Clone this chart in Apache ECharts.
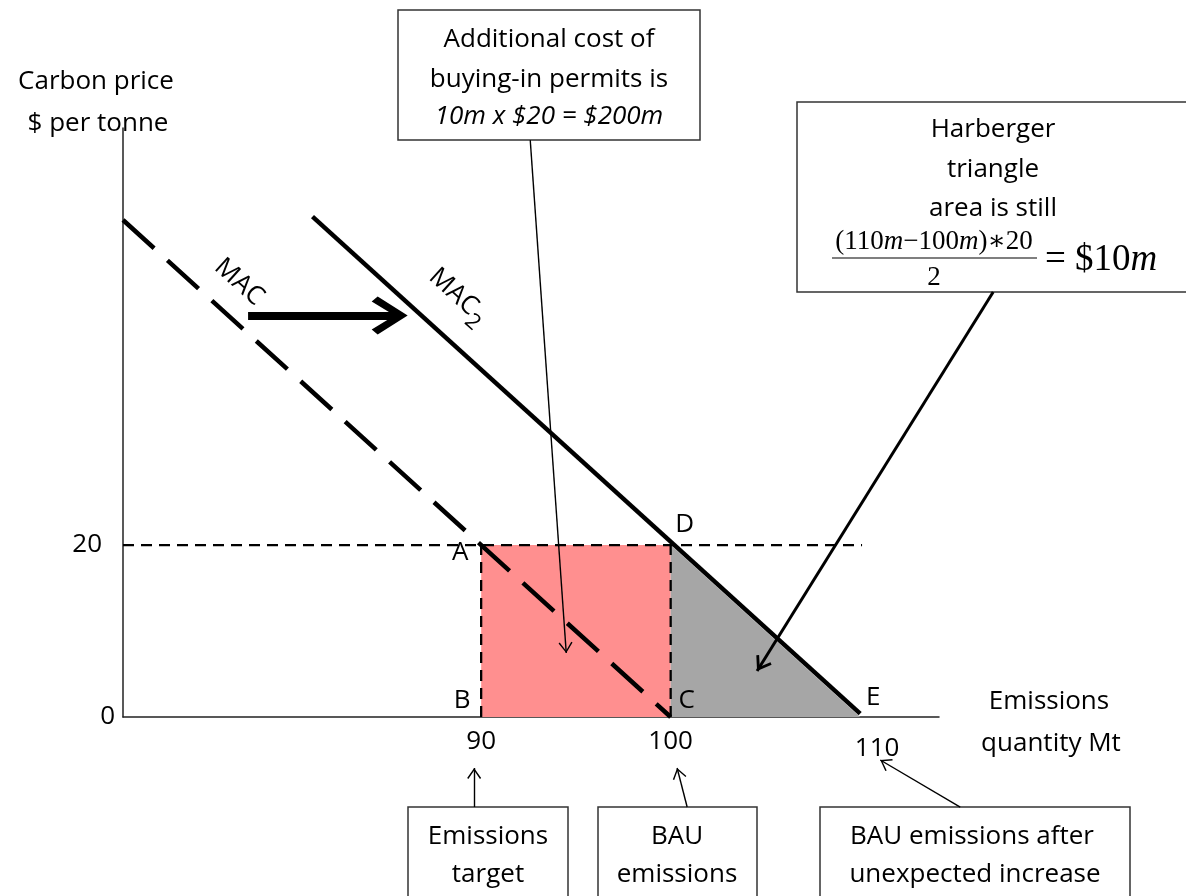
<!DOCTYPE html>
<html lang="en">
<head>
<meta charset="utf-8" />
<title>MAC shift and Harberger triangle</title>
<script src="https://cdn.jsdelivr.net/npm/echarts@6/dist/echarts.min.js"></script>
</head>
<body style="margin:0;background:#fff">
<div id="chart" style="width:1186px;height:896px"></div>
<script>
// values (x = emissions Mt, y = $ per tonne)
const xTicks = [90, 100, 110]
const yTicks = [0, 20]
const macLine = [[71.1, 57.8], [100, 0]]
const mac2Line = [[81.1, 58.2], [110, 0.4]]
const priceLine = [[71.1, 20], [110.1, 20]]
const targetDrop = [[90, 0], [90, 20]]
const bauDrop = [[100, 0], [100, 20]]
const permitCost = [[90, 20], [100, 20]]
const harbergerEdge = [[100, 20], [110, 0]]
const pointNames = ['A', 'B', 'C', 'D', 'E']
const pointValues = [[90, 20], [90, 0], [100, 0], [100, 20], [110, 0]]
const curveNames = ['MAC', 'MAC{s|2}']
const curveLabelAt = [[77.23, 50.58], [88.79, 48.95]]
const shiftArrow = [[77.7, 46.7], [85.7, 46.7]]
const noteArrows = [
    [[92.59, 67.09], [94.49, 7.44]],   // additional cost box
    [[89.63, -10.47], [89.63, -5.93]], // emissions target
    [[100.87, -10.47], [100.34, -5.93]], // BAU emissions
    [[115.28, -10.47], [111.06, -5.0]]  // BAU after increase
]
const harbergerArrow = [[117.02, 49.42], [104.56, 5.35]]

const FONT = '"Open Sans", Lato, sans-serif'
const SERIF = '"Liberation Serif", "DejaVu Serif", serif'
const FS = 26

// chevron heads, tip pointing up; the extra tiny segment re-centres the box
const thinHead = 'path://M0,0 L7,10 L5.8,10.9 L0,2.4 L-5.8,10.9 L-7,10 Z M0,-10.9 L0.01,-10.9'
const midHead = 'path://M0,0 L9,13 L6.7,14.6 L0,5 L-6.7,14.6 L-9,13 Z M0,-14.6 L0.01,-14.6'
const bigHead = 'path://M0,0 L19,30 L14,36 L0,13 L-14,36 L-19,30 Z M0,-20 L0.01,-20'

const labelOffsets = { A: [-21, 8], B: [-19, -16], C: [16, -16], D: [14, -20], E: [13, -19] }

let chart = echarts.init(document.getElementById('chart'))

function txt(text, x, y, size, extra) {
    return {
        type: 'text',
        style: Object.assign({
            text: text, x: x, y: y + 2, fill: '#000',
            font: size + 'px ' + FONT, align: 'center', verticalAlign: 'middle'
        }, extra || {})
    }
}
function box(x, y, w, h) {
    return {
        type: 'rect',
        shape: { x: x, y: y, width: w, height: h },
        style: { fill: '#fff', stroke: '#333', lineWidth: 1.5 }
    }
}

let option = {
    animation: false,
    backgroundColor: '#fff',
    grid: { left: 123, right: 247, top: 128, bottom: 179, outerBoundsMode: 'none' },
    xAxis: {
        type: 'value', min: 71.1, max: 114.16,
        splitLine: { show: false }, axisTick: { show: false },
        axisLine: { lineStyle: { color: '#222', width: 1.5 } },
        axisLabel: {
            customValues: xTicks, margin: 12, color: '#000', fontSize: FS, fontFamily: FONT,
            formatter: v => v === 110 ? '{b|110}' : String(v),
            rich: { b: { fontSize: FS, fontFamily: FONT, color: '#000', padding: [7, 0, 0, 34] } }
        }
    },
    yAxis: {
        type: 'value', min: 0, max: 68.5,
        splitLine: { show: false }, axisTick: { show: false },
        axisLine: { lineStyle: { color: '#222', width: 1.5 } },
        axisLabel: {
            customValues: yTicks, margin: 8, color: '#000', fontSize: FS, fontFamily: FONT,
            formatter: v => v === 20 ? '{t|20}' : String(v),
            rich: { t: { fontSize: FS, fontFamily: FONT, color: '#000', padding: [0, 13, 0, 0] } }
        }
    },
    series: [
        {
            type: 'line', data: permitCost, symbol: 'none', z: 1,
            lineStyle: { width: 0 }, areaStyle: { color: '#FF8F8F', opacity: 1 }
        },
        {
            type: 'line', data: harbergerEdge, symbol: 'none', z: 1,
            lineStyle: { width: 0 }, areaStyle: { color: '#A6A6A6', opacity: 1 }
        },
        {
            type: 'line', data: priceLine, symbol: 'none', z: 3,
            lineStyle: { color: '#000', width: 2.3, type: [11, 7] }
        },
        {
            type: 'line', data: targetDrop, symbol: 'none', z: 3,
            lineStyle: { color: '#000', width: 2.3, type: [11, 7] }
        },
        {
            type: 'line', data: bauDrop, symbol: 'none', z: 3,
            lineStyle: { color: '#000', width: 2.3, type: [11, 7] }
        },
        {
            type: 'line', data: macLine, symbol: 'none', z: 4,
            lineStyle: { color: '#000', width: 4.5, type: [42, 18] }
        },
        {
            type: 'line', data: mac2Line, symbol: 'none', z: 4,
            lineStyle: { color: '#000', width: 4.5 }
        },
        {
            type: 'lines', coordinateSystem: 'cartesian2d', clip: false, z: 5,
            data: noteArrows.map(c => ({ coords: c })),
            symbol: ['none', thinHead], symbolSize: [0, [14, 21.8]],
            lineStyle: { color: '#000', width: 1.4, opacity: 1 }
        },
        {
            type: 'lines', coordinateSystem: 'cartesian2d', clip: false, z: 5,
            data: [{ coords: harbergerArrow }],
            symbol: ['none', midHead], symbolSize: [0, [18, 29.2]],
            lineStyle: { color: '#000', width: 3, opacity: 1 }
        },
        {
            type: 'lines', coordinateSystem: 'cartesian2d', clip: false, z: 5,
            data: [{ coords: shiftArrow }],
            symbol: ['none', bigHead], symbolSize: [0, [38, 56]],
            lineStyle: { color: '#000', width: 8, opacity: 1 }
        },
        {
            type: 'scatter', z: 6, symbolSize: 1, itemStyle: { color: 'transparent', opacity: 1 },
            data: pointNames.map((n, i) => ({
                name: n, value: pointValues[i],
                label: { offset: labelOffsets[n] }
            })),
            label: {
                show: true, position: 'inside', formatter: '{b}',
                color: '#000', fontSize: FS, fontFamily: FONT
            }
        },
        {
            type: 'scatter', z: 6, symbolSize: 1, itemStyle: { color: 'transparent', opacity: 1 },
            data: curveNames.map((n, i) => ({ name: n, value: curveLabelAt[i] })),
            label: {
                show: true, position: 'inside', formatter: '{b}', rotate: -42,
                color: '#000', fontSize: FS, fontFamily: FONT,
                rich: { s: { fontSize: 22, fontFamily: FONT, color: '#000', padding: [20, 0, 0, 0] } }
            }
        }
    ],
    graphic: [
        // axis titles
        txt('Carbon price', 96, 80, FS),
        txt('$ per tonne', 98, 122, FS),
        txt('Emissions', 1049, 700, FS),
        txt('quantity Mt', 1051, 742, FS),
        // additional cost note
        box(398, 10, 302, 130),
        txt('Additional cost of', 549, 38, FS),
        txt('buying-in permits is', 549, 78, FS),
        txt('10m x $20 = $200m', 549, 115, FS, { font: 'italic ' + FS + 'px ' + FONT }),
        // Harberger note
        box(797, 102, 400, 190),
        txt('Harberger', 993, 128, FS),
        txt('triangle', 993, 168, FS),
        txt('area is still', 993, 207, FS),
        {
            type: 'text',
            style: {
                text: '(110{i|m}\u2212100{i|m})\u221720', x: 934, y: 242,
                align: 'center', verticalAlign: 'middle', fill: '#000',
                font: '27px ' + SERIF,
                rich: { i: { fontStyle: 'italic', fontSize: 27, fontFamily: SERIF } }
            }
        },
        {
            type: 'line', shape: { x1: 832, y1: 258, x2: 1037, y2: 258 },
            style: { stroke: '#000', lineWidth: 1.2 }
        },
        txt('2', 934, 276, 27, { font: '27px ' + SERIF }),
        {
            type: 'text',
            style: {
                text: '= $10{i|m}', x: 1045, y: 260,
                align: 'left', verticalAlign: 'middle', fill: '#000',
                font: '37px ' + SERIF,
                rich: { i: { fontStyle: 'italic', fontSize: 37, fontFamily: SERIF } }
            }
        },
        // bottom notes
        box(408, 807, 160, 100),
        txt('Emissions', 488, 835, FS),
        txt('target', 488, 873, FS),
        box(598, 807, 159, 100),
        txt('BAU', 677, 835, FS),
        txt('emissions', 677, 873, FS),
        box(820, 807, 310, 100),
        txt('BAU emissions after', 972, 835, FS),
        txt('unexpected increase', 975, 873, FS)
    ]
}
chart.setOption(option)
</script>
</body>
</html>
